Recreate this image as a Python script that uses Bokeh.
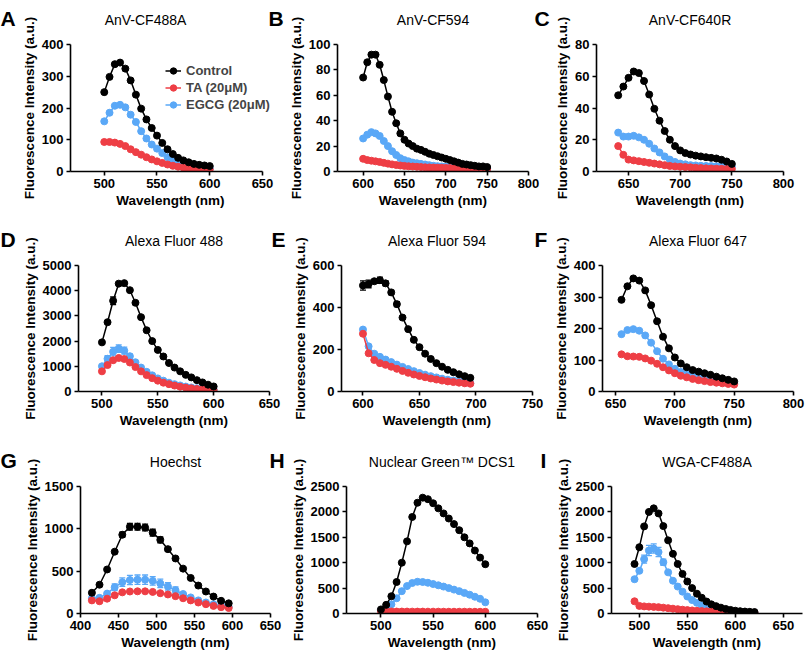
from bokeh.plotting import figure
from bokeh.layouts import row, column
from bokeh.models import FixedTicker, Label, Legend, LegendItem, Whisker, TeeHead, ColumnDataSource
from bokeh.embed import file_html
from bokeh.resources import INLINE

FONT = "Liberation Sans"
BLACK = "#000000"
RED = "#ee3e45"
BLUE = "#5aa8f7"
SERIES = ["Control", "TA (20\u03bcM)", "EGCG (20\u03bcM)"]

# ---------------- data ----------------
A_wl = [500, 505, 510, 515, 520, 525, 530, 535, 540, 545, 550, 555, 560, 565, 570, 575, 580, 585, 590, 595, 600]
A_ctrl = [250, 298, 338, 343, 324, 287, 242, 198, 164, 137, 113, 90, 70, 55, 43, 35, 29, 24, 21, 19, 17]
A_ta = [93, 93, 91, 87, 80, 70, 61, 53, 45, 38, 32, 27, 22, 18, 15, 12, 10, 9, 8, 7, 6]
A_egcg = [158, 185, 207, 210, 202, 179, 156, 127, 104, 85, 72, 58, 45, 35, 28, 22, 17, 14, 12, 11, 10]

B_wl = [600, 605, 610, 615, 620, 625, 630, 635, 640, 645, 650, 655, 660, 665, 670, 675, 680, 685, 690, 695,
        700, 705, 710, 715, 720, 725, 730, 735, 740, 745, 750]
B_ctrl = [74, 86, 92, 92, 84, 72, 59, 47, 38, 30, 25, 22, 20, 18, 17, 15.5, 14, 13, 12, 11,
          10, 9, 8, 7, 6, 5.5, 5, 4.5, 4, 4, 3.5]
B_ta = [10, 9, 8.5, 8, 7.5, 6.8, 6.2, 5.6, 5.1, 4.7, 4.4, 4.1, 3.9, 3.7, 3.5, 3.3, 3.2, 3.1, 3, 2.9,
        2.8, 2.7, 2.6, 2.5, 2.4, 2.3, 2.2, 2.1, 2, 2, 2]
B_egcg = [26, 29, 31, 30, 28, 24, 20, 16, 13, 10.5, 9, 8, 7, 6.5, 6, 5.5, 5, 4.5, 4.2, 4,
          3.8, 3.5, 3.3, 3, 2.8, 2.6, 2.5, 2.4, 2.3, 2.2, 2.1]

C_wl = [640, 645, 650, 655, 660, 665, 670, 675, 680, 685, 690, 695, 700, 705, 710, 715, 720, 725, 730, 735, 740, 745, 750]
C_ctrl = [48, 53.5, 59, 63, 62, 57, 48.5, 39.5, 32, 25.5, 20, 16, 13.3, 11.6, 10.7, 10, 9.5, 9, 8.6, 8.2, 7.4, 6.3, 4.8]
C_ta = [16, 10.5, 7.5, 7, 6.5, 6, 5.5, 5, 4.5, 4, 3.5, 3.2, 3, 2.8, 2.6, 2.4, 2.2, 2, 1.9, 1.8, 1.7, 1.6, 1.5]
C_egcg = [24.5, 22, 22, 22.5, 21.5, 20, 17.5, 14.5, 12, 9.5, 7.5, 6, 5, 4.5, 4, 3.8, 3.6, 3.5, 3.4, 3.3, 3.2, 3.1, 3]

D_wl = [500, 505, 510, 515, 520, 525, 530, 535, 540, 545, 550, 555, 560, 565, 570, 575, 580, 585, 590, 595, 600]
D_ctrl = [1950, 2750, 3600, 4280, 4300, 4020, 3520, 2950, 2430, 2000, 1650, 1390, 1130, 950, 800, 660, 560, 450, 360, 270, 200]
D_ta = [800, 1050, 1240, 1330, 1290, 1150, 970, 800, 650, 530, 430, 350, 290, 235, 190, 155, 125, 100, 80, 65, 55]
D_egcg = [1000, 1300, 1580, 1700, 1620, 1400, 1160, 950, 780, 640, 520, 430, 350, 290, 240, 195, 160, 130, 105, 90, 75]
D_ctrl_err = [0, 0, 150, 0, 0, 0, 0, 0, 0, 0, 0, 0, 0, 0, 0, 0, 0, 0, 0, 0, 0]
D_egcg_err = [0, 120, 170, 150, 140, 80, 0, 0, 0, 0, 0, 0, 0, 0, 0, 0, 0, 0, 0, 0, 0]

E_wl = [600, 605, 610, 615, 620, 625, 630, 635, 640, 645, 650, 655, 660, 665, 670, 675, 680, 685, 690, 695]
E_ctrl = [505, 512, 525, 530, 515, 472, 416, 352, 297, 246, 211, 180, 155, 135, 118, 103, 92, 82, 73, 65]
E_ta = [275, 182, 150, 135, 127, 118, 108, 98, 89, 81, 74, 68, 62, 57, 52, 48, 45, 42, 39, 37]
E_egcg = [295, 215, 180, 165, 152, 140, 128, 117, 107, 97, 88, 80, 73, 67, 61, 56, 52, 48, 44, 40]
E_ctrl_err = [22, 18, 0, 15, 12, 10, 12, 0, 0, 0, 0, 0, 0, 0, 0, 0, 0, 0, 0, 0]

F_wl = [655, 660, 665, 670, 675, 680, 685, 690, 695, 700, 705, 710, 715, 720, 725, 730, 735, 740, 745, 750]
F_ctrl = [291, 334, 359, 352, 321, 274, 223, 174, 137, 108, 89, 77, 68, 63, 58, 53, 47, 42, 37, 32]
F_ta = [118, 112, 111, 110, 105, 98, 88, 77, 67, 58, 50, 45, 40, 36, 33, 30, 28, 26, 24, 22]
F_egcg = [182, 195, 198, 193, 178, 155, 128, 104, 86, 72, 62, 55, 49, 45, 41, 37, 34, 31, 28, 25]

G_wl = [415, 425, 435, 445, 455, 465, 475, 485, 495, 505, 515, 525, 535, 545, 555, 565, 575, 585, 595]
G_ctrl = [245, 340, 520, 730, 930, 1025, 1025, 1015, 955, 870, 760, 650, 530, 420, 330, 260, 200, 150, 120]
G_ta = [155, 145, 175, 215, 250, 260, 262, 262, 255, 240, 225, 205, 180, 155, 130, 110, 90, 75, 65]
G_egcg = [180, 185, 235, 310, 370, 395, 400, 400, 385, 355, 320, 275, 230, 190, 155, 130, 110, 95, 80]
G_ctrl_err = [0, 0, 0, 0, 30, 40, 40, 40, 40, 35, 25, 0, 0, 0, 0, 0, 0, 0, 0]
G_egcg_err = [0, 0, 0, 40, 50, 55, 55, 55, 50, 50, 45, 40, 0, 0, 0, 0, 0, 0, 0]

H_wl = [500, 505, 510, 515, 520, 525, 530, 535, 540, 545, 550, 555, 560, 565, 570, 575, 580, 585, 590, 595, 600]
H_ctrl = [80, 170, 340, 620, 1000, 1420, 1900, 2180, 2280, 2250, 2170, 2070, 1970, 1870, 1760, 1640, 1500, 1380, 1240, 1100, 970]
H_ta = [45, 40, 40, 38, 38, 38, 37, 37, 37, 36, 36, 36, 35, 35, 35, 35, 35, 34, 34, 34, 34]
H_egcg = [60, 90, 180, 300, 440, 540, 600, 625, 620, 605, 580, 555, 530, 500, 470, 440, 405, 370, 330, 290, 220]

I_wl = [495, 500, 505, 510, 515, 520, 525, 530, 535, 540, 545, 550, 555, 560, 565, 570, 575, 580, 585, 590,
        595, 600, 605, 610, 615, 620]
I_ctrl = [975, 1305, 1715, 2000, 2070, 1970, 1720, 1440, 1175, 975, 780, 630, 500, 390, 310, 235, 180, 145, 115, 90,
          70, 55, 45, 38, 32, 28]
I_ta = [240, 150, 140, 135, 130, 125, 115, 105, 95, 85, 75, 67, 60, 53, 47, 42, 37, 33, 30, 27,
        24, 22, 20, 18, 16, 15]
I_egcg = [675, 840, 1070, 1240, 1280, 1210, 1010, 810, 645, 530, 430, 335, 265, 210, 160, 115, 80, 60, 45, 35,
          28, 22, 18, 15, 13, 11]
I_egcg_err = [0, 0, 80, 100, 90, 90, 60, 0, 0, 0, 0, 0, 0, 0, 0, 0, 0, 0, 0, 0, 0, 0, 0, 0, 0, 0]

TITLES = ["AnV-CF488A", "AnV-CF594", "AnV-CF640R", "Alexa Fluor 488", "Alexa Fluor 594",
          "Alexa Fluor 647", "Hoechst", "Nuclear Green\u2122 DCS1", "WGA-CF488A"]
LETTERS = ["A", "B", "C", "D", "E", "F", "G", "H", "I"]


def add_errors(p, wl, vals, errs, color):
    xs = [w for w, e in zip(wl, errs) if e > 0]
    up = [v + e for v, e in zip(vals, errs) if e > 0]
    lo = [v - e for v, e in zip(vals, errs) if e > 0]
    src = ColumnDataSource(dict(base=xs, upper=up, lower=lo))
    wh = Whisker(source=src, base="base", upper="upper", lower="lower",
                 line_color=color, line_width=1.3,
                 upper_head=TeeHead(size=6, line_color=color, line_width=1.3),
                 lower_head=TeeHead(size=6, line_color=color, line_width=1.3))
    p.add_layout(wh)


def text_label(x, y, dx, dy, text, size, style, align):
    return Label(x=x, y=y, x_offset=dx, y_offset=dy, text=text, text_align=align,
                 text_baseline="alphabetic", text_font=FONT, text_font_size=size,
                 text_font_style=style, text_color=BLACK)


def panel(w, h, L, R, T, B, xr, xt, yr, yt, wl, ctrl, ta, egcg, title,
          own_letter=None, next_letter=None, title_dx=0, errs=None, legend=False, xaxis_end=None):
    p = figure(width=w, height=h, x_range=xr, y_range=(0, yr), output_backend="svg",
               toolbar_location=None, min_border_left=L, min_border_right=R,
               min_border_top=T, min_border_bottom=B)
    p.outline_line_color = None
    p.xgrid.visible = False
    p.ygrid.visible = False
    p.xaxis.ticker = FixedTicker(ticks=xt)
    p.yaxis.ticker = FixedTicker(ticks=yt)
    p.xaxis.axis_label = "Wavelength (nm)"
    p.yaxis.axis_label = "Fluorescence Intensity (a.u.)"
    if xaxis_end is not None:
        p.xaxis.bounds = (xr[0], xaxis_end)
    for ax in (p.xaxis[0], p.yaxis[0]):
        ax.axis_line_width = 1.6
        ax.axis_line_color = BLACK
        ax.major_tick_line_width = 1.6
        ax.major_tick_line_color = BLACK
        ax.major_tick_out = 4
        ax.major_tick_in = 0
        ax.minor_tick_out = 0
        ax.minor_tick_in = 0
        ax.major_label_text_font = FONT
        ax.major_label_text_font_style = "bold"
        ax.major_label_text_font_size = "13px"
        ax.major_label_text_color = BLACK
        ax.major_label_standoff = 3
        ax.axis_label_text_font = FONT
        ax.axis_label_text_font_style = "bold"
        ax.axis_label_text_font_size = "13.5px"
        ax.axis_label_text_color = BLACK
        ax.axis_label_standoff = 2

    errs = errs or {}
    rs = {}
    for name, vals, col in ((SERIES[2], egcg, BLUE), (SERIES[1], ta, RED), (SERIES[0], ctrl, BLACK)):
        if name in errs:
            add_errors(p, wl, vals, errs[name], col)
        ln = p.line(wl, vals, line_color=col, line_width=1.5)
        sc = p.scatter(wl, vals, size=7, fill_color=col, line_color=col)
        rs[name] = [ln, sc]

    # panel title and letters live in the side panels so the frame does not clip them
    xe = xaxis_end if xaxis_end is not None else xr[1]
    p.add_layout(text_label((xr[0] + xe) / 2, yr, title_dx, 25, title, "14px", "normal", "center"), "above")
    if own_letter is not None:
        p.add_layout(text_label(xr[0], yr, own_letter[1], 26, own_letter[0], "21px", "bold", "left"), "left")
    if next_letter is not None:
        p.add_layout(text_label(xr[0], yr, next_letter[1], 26, next_letter[0], "21px", "bold", "left"), "right")
    if legend:
        lg = Legend(items=[LegendItem(label=n, renderers=rs[n]) for n in SERIES],
                    location=(95, 58), background_fill_alpha=0, border_line_color=None,
                    padding=0, margin=0, spacing=0, label_text_font=FONT,
                    label_text_font_style="bold", label_text_font_size="13px",
                    glyph_width=16, glyph_height=17, label_height=17, label_standoff=5)
        p.add_layout(lg)
    return p


# row 1
pA = panel(285, 218, 70, 15, 44, 47, (468, 657.6), [500, 550, 600, 650], 400, [0, 100, 200, 300, 400],
           A_wl, A_ctrl, A_ta, A_egcg, TITLES[0], own_letter=(LETTERS[0], -70),
           next_letter=(LETTERS[1], 198), title_dx=-21, legend=True, xaxis_end=650)
pB = panel(267, 218, 51, 24, 44, 47, (569, 800), [600, 650, 700, 750, 800], 100, [0, 20, 40, 60, 80, 100],
           B_wl, B_ctrl, B_ta, B_egcg, TITLES[1], next_letter=(LETTERS[2], 197))
pC = panel(253, 218, 42, 22, 44, 47, (619, 800), [650, 700, 750, 800], 80, [0, 20, 40, 60, 80],
           C_wl, C_ctrl, C_ta, C_egcg, TITLES[2])

# row 2
pD = panel(289, 220, 78, 20, 47, 47, (479, 650), [500, 550, 600, 650], 5000, [0, 1000, 2000, 3000, 4000, 5000],
           D_wl, D_ctrl, D_ta, D_egcg, TITLES[3], own_letter=(LETTERS[3], -78),
           next_letter=(LETTERS[4], 193), errs={SERIES[0]: D_ctrl_err, SERIES[2]: D_egcg_err})
pE = panel(261, 220, 52, 18, 47, 47, (581, 750), [600, 650, 700, 750], 600, [0, 200, 400, 600],
           E_wl, E_ctrl, E_ta, E_egcg, TITLES[4], next_letter=(LETTERS[5], 193),
           errs={SERIES[0]: E_ctrl_err})
pF = panel(255, 220, 52, 12, 47, 47, (639, 800), [650, 700, 750, 800], 400, [0, 100, 200, 300, 400],
           F_wl, F_ctrl, F_ta, F_egcg, TITLES[5])

# row 3
pG = panel(287, 219, 80, 17, 48, 44, (400, 650), [400, 450, 500, 550, 600, 650], 1500, [0, 500, 1000, 1500],
           G_wl, G_ctrl, G_ta, G_egcg, TITLES[6], own_letter=(LETTERS[6], -80),
           next_letter=(LETTERS[7], 189), errs={SERIES[0]: G_ctrl_err, SERIES[2]: G_egcg_err})
pH = panel(264, 219, 56, 14, 48, 44, (467, 650), [500, 550, 600, 650], 2500, [0, 500, 1000, 1500, 2000, 2500],
           H_wl, H_ctrl, H_ta, H_egcg, TITLES[7], next_letter=(LETTERS[8], 194))
pI = panel(254, 219, 60, 3, 48, 44, (471, 670), [500, 550, 600, 650], 2500, [0, 500, 1000, 1500, 2000, 2500],
           I_wl, I_ctrl, I_ta, I_egcg, TITLES[8], errs={SERIES[2]: I_egcg_err})

layout = column(row(pA, pB, pC), row(pD, pE, pF), row(pG, pH, pI))

with open("out.html", "w") as f:
    f.write(file_html(layout, INLINE))
